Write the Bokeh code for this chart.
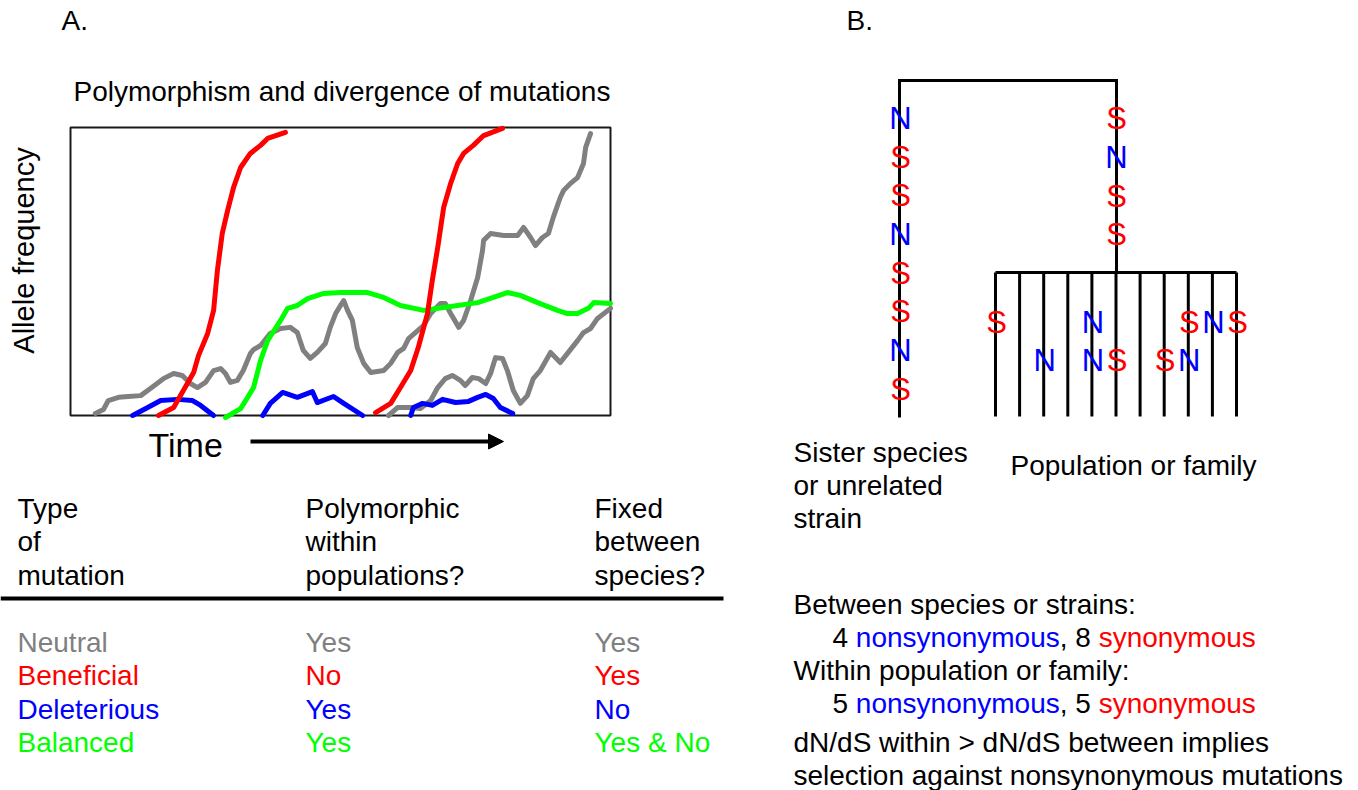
from bokeh.plotting import figure
from bokeh.models import Range1d, ColumnDataSource, Arrow, NormalHead
from bokeh.core.properties import value
from bokeh.embed import file_html
from bokeh.resources import INLINE
import math

# ---------------- data: panel A table ----------------
mutation_types = ["Neutral", "Beneficial", "Deleterious", "Balanced"]
polymorphic_within = ["Yes", "No", "Yes", "Yes"]
fixed_between = ["Yes", "Yes", "No", "Yes & No"]
type_colors = ["#808080", "#ff0000", "#0000ff", "#00ff00"]
header_type = ["Type", "of", "mutation"]
header_poly = ["Polymorphic", "within", "populations?"]
header_fixed = ["Fixed", "between", "species?"]

# ---------------- data: allele frequency trajectories (time 0-100, frequency 0-1) ----------------
neutral1_t = [4.6, 6.1, 7.0, 8.9, 10.7, 13.0, 14.8, 17.2, 19.1, 20.7, 22.2, 23.5, 25.0, 26.5, 27.8, 28.7,
              29.6, 30.9, 32.0, 33.3, 33.9, 35.2, 37.0, 38.9, 40.7, 42.0, 43.1, 44.4, 45.7, 47.2, 48.1,
              49.1, 50.0, 50.6, 51.3, 52.2, 53.1, 54.3, 55.6, 58.0, 59.3, 60.6, 61.7, 62.6, 64.3, 65.4,
              66.7, 68.5, 69.4, 70.4, 71.9, 72.8, 74.1, 75.4, 76.3, 76.5, 77.8, 80.2, 82.8, 83.9, 85.2,
              86.1, 87.4, 88.5, 89.4, 90.7, 91.3, 92.6, 93.9, 95.0, 95.4, 96.3]
neutral1_f = [0.007, 0.021, 0.052, 0.063, 0.066, 0.069, 0.094, 0.128, 0.146, 0.139, 0.111, 0.097, 0.115,
              0.156, 0.163, 0.146, 0.115, 0.122, 0.156, 0.215, 0.229, 0.243, 0.285, 0.302, 0.306, 0.288,
              0.226, 0.198, 0.219, 0.250, 0.306, 0.354, 0.382, 0.399, 0.365, 0.330, 0.236, 0.181, 0.149,
              0.156, 0.181, 0.219, 0.233, 0.267, 0.295, 0.313, 0.354, 0.389, 0.389, 0.354, 0.306, 0.330,
              0.399, 0.479, 0.573, 0.608, 0.632, 0.625, 0.625, 0.653, 0.618, 0.590, 0.618, 0.632, 0.688,
              0.757, 0.781, 0.806, 0.826, 0.875, 0.931, 0.979]
neutral2_t = [58.9, 60.6, 63.0, 64.8, 66.7, 68.0, 69.4, 70.7, 72.2, 73.1, 74.4, 75.6, 76.9, 77.8, 78.7,
              80.0, 80.9, 82.0, 83.3, 84.6, 85.7, 87.0, 88.9, 90.7, 92.0, 93.9, 95.0, 96.3, 97.6, 100.0]
neutral2_f = [0.0, 0.028, 0.028, 0.024, 0.052, 0.097, 0.128, 0.139, 0.122, 0.104, 0.132, 0.128, 0.111,
              0.146, 0.201, 0.198, 0.156, 0.087, 0.042, 0.069, 0.128, 0.156, 0.219, 0.184, 0.215, 0.260,
              0.288, 0.302, 0.337, 0.372]
balanced_t = [28.7, 31.5, 32.8, 33.9, 35.2, 36.5, 38.9, 40.2, 42.0, 43.9, 46.9, 50.0, 55.0, 58.0, 61.1,
              65.4, 69.1, 75.4, 78.3, 80.9, 83.3, 86.5, 90.2, 92.0, 93.9, 95.9, 96.9, 100.0]
balanced_f = [-0.007, 0.024, 0.063, 0.097, 0.191, 0.260, 0.330, 0.372, 0.382, 0.406, 0.424, 0.427, 0.427,
              0.410, 0.382, 0.365, 0.375, 0.392, 0.410, 0.427, 0.417, 0.392, 0.365, 0.354, 0.354, 0.372,
              0.392, 0.389]
deleterious1_t = [11.5, 14.3, 16.7, 19.8, 22.6, 24.1, 26.5]
deleterious1_f = [0.0, 0.028, 0.052, 0.056, 0.052, 0.035, 0.0]
deleterious2_t = [35.6, 37.0, 39.3, 42.0, 44.8, 45.7, 48.7, 50.6, 54.1]
deleterious2_f = [0.0, 0.042, 0.080, 0.063, 0.083, 0.045, 0.066, 0.042, 0.0]
deleterious3_t = [63.0, 63.5, 65.2, 67.0, 68.9, 71.3, 73.7, 75.4, 76.9, 78.3, 79.6, 81.9]
deleterious3_f = [0.0, 0.028, 0.042, 0.035, 0.056, 0.045, 0.049, 0.063, 0.073, 0.059, 0.028, 0.007]
beneficial1_t = [16.3, 19.1, 20.9, 22.8, 23.7, 25.4, 26.5, 27.2, 28.1, 29.1, 30.2, 31.5, 33.3, 35.2, 36.5, 39.8]
beneficial1_f = [0.0, 0.028, 0.087, 0.149, 0.208, 0.285, 0.365, 0.503, 0.632, 0.712, 0.792, 0.861, 0.910,
                 0.938, 0.962, 0.983]
beneficial2_t = [56.5, 59.3, 61.1, 63.0, 64.4, 66.1, 67.0, 68.0, 69.1, 70.4, 71.7, 72.8, 74.6, 76.5, 80.0]
beneficial2_f = [0.010, 0.042, 0.097, 0.156, 0.236, 0.354, 0.469, 0.583, 0.722, 0.806, 0.875, 0.910,
                 0.938, 0.972, 0.997]

# ---------------- data: panel B tree mutations ----------------
sister_branch = ["N", "S", "S", "N", "S", "S", "N", "S"]
population_branch = ["S", "N", "S", "S"]
n_leaves = 11
leaf_row1 = ["S", "", "", "", "N", "", "", "", "S", "N", "S"]
leaf_row2 = ["", "", "N", "", "N", "S", "", "S", "N", "", ""]
letter_colors = {"N": "#0000ff", "S": "#ff0000"}

between_N = sister_branch.count("N") + population_branch.count("N")
between_S = sister_branch.count("S") + population_branch.count("S")
within_N = leaf_row1.count("N") + leaf_row2.count("N")
within_S = leaf_row1.count("S") + leaf_row2.count("S")

# ---------------- layout ----------------
W, H = 1358, 790
FONT = value("Liberation Sans")
p = figure(width=W, height=H, x_range=Range1d(0, W), y_range=Range1d(H, 0),
           x_axis_type=None, y_axis_type=None, toolbar_location=None,
           output_backend="svg", min_border=0,
           background_fill_color="white", border_fill_color="white")
p.outline_line_color = None
p.grid.visible = False

# plot box mapping (time/frequency scales)
BOX_L, BOX_R, BOX_T, BOX_B = 70, 610, 127, 415
T_MAX = 100.0
ppt = (BOX_R - BOX_L) / T_MAX
ppf = (BOX_B - BOX_T)
p.extra_x_ranges = {"time": Range1d((0 - BOX_L) / ppt, (W - BOX_L) / ppt)}
p.extra_y_ranges = {"freq": Range1d((BOX_B - H) / ppf, (BOX_B - 0) / ppf)}

p.quad(left=[0], right=[T_MAX], bottom=[0], top=[1], x_range_name="time", y_range_name="freq",
       fill_color=None, line_color="#1a1a1a", line_width=2)

curves = [
    (neutral1_t, neutral1_f, "#808080"),
    (neutral2_t, neutral2_f, "#808080"),
    (deleterious1_t, deleterious1_f, "#0000ff"),
    (deleterious2_t, deleterious2_f, "#0000ff"),
    (deleterious3_t, deleterious3_f, "#0000ff"),
    (balanced_t, balanced_f, "#00ff00"),
    (beneficial1_t, beneficial1_f, "#ff0000"),
    (beneficial2_t, beneficial2_f, "#ff0000"),
]
for t, f, c in curves:
    p.line(t, f, x_range_name="time", y_range_name="freq", line_color=c, line_width=5,
           line_join="round", line_cap="round")

CAP = 0.36  # text anchor sits at the middle of the capitals


def txt(x, yb, s, color="black", size=28, align="left", angle=0.0):
    # yb: baseline in picture pixels
    p.text(x=[x], y=[yb - CAP * size], text=[s], text_color=color, text_font=FONT,
           text_font_size=f"{size}px", text_align=align, text_baseline="alphabetic", angle=angle)


# panel A texts
txt(61, 30, "A.")
txt(73, 101, "Polymorphism and divergence of mutations")
p.text(x=[23.5], y=[250], text=["Allele frequency"], text_color="black", text_font=FONT,
       text_font_size="29px", text_align="center", text_baseline="alphabetic", angle=math.pi / 2)
txt(148, 457, "Time", size=34)
p.add_layout(Arrow(end=NormalHead(size=15, fill_color="black", line_color="black", line_width=1),
                   x_start=250, y_start=441, x_end=503, y_end=441, line_width=4, line_color="black"))

col_x = [17, 305, 594]
for cx, lines in zip(col_x, [header_type, header_poly, header_fixed]):
    for i, s in enumerate(lines):
        txt(cx, 518 + 33.5 * i, s)
p.segment(x0=[0], y0=[598], x1=[723], y1=[598], line_color="black", line_width=4)
for i, (m, a, b, c) in enumerate(zip(mutation_types, polymorphic_within, fixed_between, type_colors)):
    yb = 652 + 33.3 * i
    txt(col_x[0], yb, m, color=c)
    txt(col_x[1], yb, a, color=c)
    txt(col_x[2], yb, b, color=c)

# panel B tree
TREE_L, TREE_R, TREE_TOP, TREE_BOT = 899, 1116, 80, 417
POP_Y, LEAF_BOT = 272, 416
LEAF0, LEAF_DX = 995, 24.1
leaf_x = [LEAF0 + LEAF_DX * i for i in range(n_leaves)]
xs = [[TREE_L, TREE_L, TREE_R, TREE_R], [leaf_x[0], leaf_x[-1]]]
ys = [[TREE_BOT, TREE_TOP, TREE_TOP, POP_Y], [POP_Y, POP_Y]]
for lx in leaf_x:
    xs.append([lx, lx])
    ys.append([POP_Y, LEAF_BOT])
p.multi_line(xs=xs, ys=ys, line_color="black", line_width=3, line_join="miter")

LS = 31
mx, my, mt, mc = [], [], [], []
for i, s in enumerate(sister_branch):
    mx.append(TREE_L + 1); my.append(129 + 38.7 * i - CAP * LS); mt.append(s); mc.append(letter_colors[s])
for i, s in enumerate(population_branch):
    mx.append(TREE_R); my.append(129.5 + 38.6 * i - CAP * LS); mt.append(s); mc.append(letter_colors[s])
for row, yb in ((leaf_row1, 333), (leaf_row2, 371)):
    for i, s in enumerate(row):
        if s:
            mx.append(leaf_x[i] + 1); my.append(yb - CAP * LS); mt.append(s); mc.append(letter_colors[s])
p.text(x="x", y="y", text="t", text_color="c", source=ColumnDataSource(dict(x=mx, y=my, t=mt, c=mc)),
       text_font=FONT, text_font_size=f"{LS}px", text_align="center", text_baseline="alphabetic")

# panel B texts
txt(846, 30, "B.")
for i, s in enumerate(["Sister species", "or unrelated", "strain"]):
    txt(793, 462 + 33 * i, s)
txt(1010, 475, "Population or family")

ADV = {" ": 278, ",": 278, "n": 556, "o": 556, "s": 500, "y": 500, "m": 833, "u": 556}
for d in "0123456789":
    ADV[d] = 556


def width(s, size=28):
    return sum(ADV.get(ch, 556) for ch in s) * size / 1000.0


def colored_line(x, yb, nN, nS):
    parts = [(f"{nN} ", "black"), ("nonsynonymous", "#0000ff"), (f", {nS} ", "black"), ("synonymous", "#ff0000")]
    for s, c in parts:
        txt(x, yb, s, color=c)
        x += width(s)


txt(793, 614, "Between species or strains:")
colored_line(832, 647, between_N, between_S)
txt(793, 680, "Within population or family:")
colored_line(832, 713, within_N, within_S)
txt(793, 752, "dN/dS within > dN/dS between implies")
txt(793, 785, "selection against nonsynonymous mutations")

open("out.html", "w").write(file_html(p, INLINE))
